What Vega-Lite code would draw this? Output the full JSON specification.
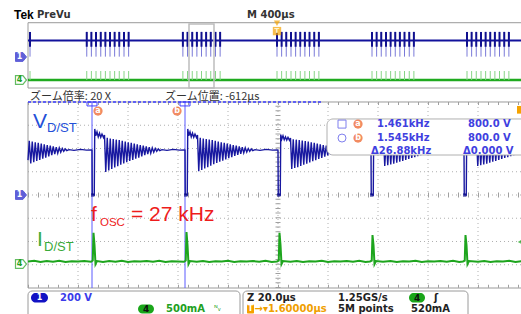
{
"$schema":"https://vega.github.io/schema/vega-lite/v6.json",
"background":"white","padding":0,"spacing":0,"bounds":"flush",
"config":{"view":{"stroke":null},"concat":{"spacing":0}},
"resolve":{"scale":{"x":"independent","y":"independent"}},
"datasets":{
"ospk":[{"t":16,"lo":-0.2,"dk":1.0,"hi":2.8,"glo":-3.03,"ghi":-1.94},
{"t":470,"lo":-0.2,"dk":1.0,"hi":2.8,"glo":-3.03,"ghi":-1.94},{"t":507,"lo":-0.2,"dk":1.0,"hi":2.8,"glo":-3.03,"ghi":-1.94},{"t":544,"lo":-0.2,"dk":1.0,"hi":2.8,"glo":-3.03,"ghi":-1.94},{"t":582,"lo":-0.2,"dk":1.0,"hi":2.8,"glo":-3.03,"ghi":-1.94},{"t":619,"lo":-0.2,"dk":1.0,"hi":2.8,"glo":-3.03,"ghi":-1.94},{"t":656,"lo":-0.2,"dk":1.0,"hi":2.8,"glo":-3.03,"ghi":-1.94},{"t":693,"lo":-0.2,"dk":1.0,"hi":2.8,"glo":-3.03,"ghi":-1.94},{"t":730,"lo":-0.2,"dk":1.0,"hi":2.8,"glo":-3.03,"ghi":-1.94},{"t":768,"lo":-0.2,"dk":1.0,"hi":2.8,"glo":-3.03,"ghi":-1.94},{"t":805,"lo":-0.2,"dk":1.0,"hi":2.8,"glo":-3.03,"ghi":-1.94},
{"t":1239,"lo":-0.2,"dk":1.0,"hi":2.8,"glo":-3.03,"ghi":-1.94},{"t":1276,"lo":-0.2,"dk":1.0,"hi":2.8,"glo":-3.03,"ghi":-1.94},{"t":1314,"lo":-0.2,"dk":1.0,"hi":2.8,"glo":-3.03,"ghi":-1.94},{"t":1351,"lo":-0.2,"dk":1.0,"hi":2.8,"glo":-3.03,"ghi":-1.94},{"t":1388,"lo":-0.2,"dk":1.0,"hi":2.8,"glo":-3.03,"ghi":-1.94},{"t":1425,"lo":-0.2,"dk":1.0,"hi":2.8,"glo":-3.03,"ghi":-1.94},{"t":1462,"lo":-0.2,"dk":1.0,"hi":2.8,"glo":-3.03,"ghi":-1.94},{"t":1500,"lo":-0.2,"dk":1.0,"hi":2.8,"glo":-3.03,"ghi":-1.94},{"t":1537,"lo":-0.2,"dk":1.0,"hi":2.8,"glo":-3.03,"ghi":-1.94},
{"t":1992,"lo":-0.2,"dk":1.0,"hi":2.8,"glo":-3.03,"ghi":-1.94},{"t":2029,"lo":-0.2,"dk":1.0,"hi":2.8,"glo":-3.03,"ghi":-1.94},{"t":2066,"lo":-0.2,"dk":1.0,"hi":2.8,"glo":-3.03,"ghi":-1.94},{"t":2104,"lo":-0.2,"dk":1.0,"hi":2.8,"glo":-3.03,"ghi":-1.94},{"t":2141,"lo":-0.2,"dk":1.0,"hi":2.8,"glo":-3.03,"ghi":-1.94},{"t":2178,"lo":-0.2,"dk":1.0,"hi":2.8,"glo":-3.03,"ghi":-1.94},{"t":2215,"lo":-0.2,"dk":1.0,"hi":2.8,"glo":-3.03,"ghi":-1.94},{"t":2252,"lo":-0.2,"dk":1.0,"hi":2.8,"glo":-3.03,"ghi":-1.94},{"t":2290,"lo":-0.2,"dk":1.0,"hi":2.8,"glo":-3.03,"ghi":-1.94},{"t":2327,"lo":-0.2,"dk":1.0,"hi":2.8,"glo":-3.03,"ghi":-1.94},
{"t":2752,"lo":-0.2,"dk":1.0,"hi":2.8,"glo":-3.03,"ghi":-1.94},{"t":2789,"lo":-0.2,"dk":1.0,"hi":2.8,"glo":-3.03,"ghi":-1.94},{"t":2826,"lo":-0.2,"dk":1.0,"hi":2.8,"glo":-3.03,"ghi":-1.94},{"t":2864,"lo":-0.2,"dk":1.0,"hi":2.8,"glo":-3.03,"ghi":-1.94},{"t":2901,"lo":-0.2,"dk":1.0,"hi":2.8,"glo":-3.03,"ghi":-1.94},{"t":2938,"lo":-0.2,"dk":1.0,"hi":2.8,"glo":-3.03,"ghi":-1.94},{"t":2975,"lo":-0.2,"dk":1.0,"hi":2.8,"glo":-3.03,"ghi":-1.94},{"t":3012,"lo":-0.2,"dk":1.0,"hi":2.8,"glo":-3.03,"ghi":-1.94},{"t":3050,"lo":-0.2,"dk":1.0,"hi":2.8,"glo":-3.03,"ghi":-1.94},{"t":3087,"lo":-0.2,"dk":1.0,"hi":2.8,"glo":-3.03,"ghi":-1.94},
{"t":3512,"lo":-0.2,"dk":1.0,"hi":2.8,"glo":-3.03,"ghi":-1.94},{"t":3549,"lo":-0.2,"dk":1.0,"hi":2.8,"glo":-3.03,"ghi":-1.94},{"t":3586,"lo":-0.2,"dk":1.0,"hi":2.8,"glo":-3.03,"ghi":-1.94},{"t":3624,"lo":-0.2,"dk":1.0,"hi":2.8,"glo":-3.03,"ghi":-1.94},{"t":3661,"lo":-0.2,"dk":1.0,"hi":2.8,"glo":-3.03,"ghi":-1.94},{"t":3698,"lo":-0.2,"dk":1.0,"hi":2.8,"glo":-3.03,"ghi":-1.94},{"t":3735,"lo":-0.2,"dk":1.0,"hi":2.8,"glo":-3.03,"ghi":-1.94},{"t":3772,"lo":-0.2,"dk":1.0,"hi":2.8,"glo":-3.03,"ghi":-1.94},{"t":3810,"lo":-0.2,"dk":1.0,"hi":2.8,"glo":-3.03,"ghi":-1.94},{"t":3847,"lo":-0.2,"dk":1.0,"hi":2.8,"glo":-3.03,"ghi":-1.94}],
"zb":[{"t":0,"v":1.5},{"t":0.5,"v":2.33},{"t":1.1,"v":1.36},{"t":1.7,"v":2.3},{"t":2.3,"v":1.41},{"t":2.9,"v":2.27},{"t":3.5,"v":1.46},{"t":4.1,"v":2.24},{"t":4.7,"v":1.51},{"t":5.3,"v":2.21},{"t":5.9,"v":1.56},{"t":6.5,"v":2.18},{"t":7.1,"v":1.61},{"t":7.7,"v":2.15},{"t":8.3,"v":1.66},{"t":8.9,"v":2.12},{"t":9.5,"v":1.71},{"t":10.1,"v":2.09},{"t":10.7,"v":1.76},{"t":11.3,"v":2.06},{"t":11.9,"v":1.8},{"t":12.5,"v":2.03},{"t":13.1,"v":1.84},{"t":13.7,"v":2.0},{"t":14.3,"v":1.88},{"t":14.9,"v":1.98},{"t":15.5,"v":1.91},{"t":16.4,"v":1.95},{"t":18.4,"v":1.92},{"t":21,"v":1.96},{"t":23.4,"v":1.93},{"t":25.3,"v":1.94},
{"t":25.6,"v":1.93},{"t":25.7,"v":0.02},{"t":26.5,"v":0.0},{"t":26.7,"v":2.84},{"t":27.1,"v":2.55},{"t":27.6,"v":2.72},{"t":28.1,"v":2.5},{"t":28.6,"v":2.66},{"t":29.1,"v":2.48},{"t":29.6,"v":2.62},{"t":30.2,"v":2.47},{"t":30.6,"v":2.58},
{"t":31.1,"v":0.99},{"t":31.7,"v":2.46},{"t":32.3,"v":1.05},{"t":32.9,"v":2.43},{"t":33.5,"v":1.12},{"t":34.1,"v":2.41},{"t":34.7,"v":1.18},{"t":35.3,"v":2.38},{"t":35.9,"v":1.24},{"t":36.5,"v":2.36},{"t":37.1,"v":1.3},{"t":37.7,"v":2.33},{"t":38.3,"v":1.36},{"t":38.9,"v":2.3},{"t":39.5,"v":1.41},{"t":40.1,"v":2.27},{"t":40.7,"v":1.46},{"t":41.3,"v":2.24},{"t":41.9,"v":1.51},{"t":42.5,"v":2.21},{"t":43.1,"v":1.56},{"t":43.7,"v":2.18},{"t":44.3,"v":1.61},{"t":44.9,"v":2.15},{"t":45.5,"v":1.66},{"t":46.1,"v":2.12},{"t":46.7,"v":1.71},{"t":47.3,"v":2.09},{"t":47.9,"v":1.76},{"t":48.5,"v":2.06},{"t":49.1,"v":1.8},{"t":49.7,"v":2.03},{"t":50.3,"v":1.84},{"t":50.9,"v":2.0},{"t":51.5,"v":1.88},{"t":52.1,"v":1.98},{"t":52.7,"v":1.91},{"t":53.6,"v":1.95},{"t":55.6,"v":1.92},{"t":58.1,"v":1.96},{"t":60.6,"v":1.93},{"t":62.5,"v":1.94},
{"t":62.8,"v":1.93},{"t":62.9,"v":0.02},{"t":63.7,"v":0.0},{"t":63.9,"v":2.84},{"t":64.3,"v":2.55},{"t":64.8,"v":2.72},{"t":65.3,"v":2.5},{"t":65.8,"v":2.66},{"t":66.3,"v":2.48},{"t":66.8,"v":2.62},{"t":67.4,"v":2.47},{"t":67.8,"v":2.58},
{"t":68.3,"v":1.02},{"t":68.9,"v":2.46},{"t":69.5,"v":1.08},{"t":70.1,"v":2.43},{"t":70.7,"v":1.14},{"t":71.3,"v":2.41},{"t":71.9,"v":1.2},{"t":72.5,"v":2.38},{"t":73.1,"v":1.26},{"t":73.7,"v":2.36},{"t":74.3,"v":1.32},{"t":74.9,"v":2.33},{"t":75.5,"v":1.38},{"t":76.1,"v":2.3},{"t":76.7,"v":1.43},{"t":77.3,"v":2.27},{"t":77.9,"v":1.48},{"t":78.5,"v":2.24},{"t":79.1,"v":1.53},{"t":79.7,"v":2.21},{"t":80.3,"v":1.58},{"t":80.9,"v":2.18},{"t":81.5,"v":1.63},{"t":82.1,"v":2.15},{"t":82.7,"v":1.68},{"t":83.3,"v":2.12},{"t":83.9,"v":1.73},{"t":84.5,"v":2.09},{"t":85.1,"v":1.77},{"t":85.7,"v":2.06},{"t":86.3,"v":1.81},{"t":86.9,"v":2.03},{"t":87.5,"v":1.85},{"t":88.1,"v":2.0},{"t":88.7,"v":1.88},{"t":89.3,"v":1.98},{"t":89.9,"v":1.91},{"t":90.8,"v":1.95},{"t":92.8,"v":1.92},{"t":95.3,"v":1.96},{"t":97.8,"v":1.93},{"t":99.7,"v":1.94},
{"t":100.0,"v":1.93},{"t":100.1,"v":0.02},{"t":100.9,"v":0.0},{"t":101.1,"v":2.6},{"t":101.5,"v":2.4},{"t":102.0,"v":2.55},{"t":102.5,"v":2.38},{"t":103.0,"v":2.5},{"t":103.5,"v":2.36},{"t":104.0,"v":2.48},{"t":104.6,"v":2.35},{"t":105.0,"v":2.45},
{"t":105.5,"v":1.12},{"t":106.1,"v":2.4},{"t":106.7,"v":1.16},{"t":107.3,"v":2.38},{"t":107.9,"v":1.2},{"t":108.5,"v":2.36},{"t":109.1,"v":1.25},{"t":109.7,"v":2.34},{"t":110.3,"v":1.3},{"t":110.9,"v":2.32},{"t":111.5,"v":1.35},{"t":112.1,"v":2.3},{"t":112.7,"v":1.4},{"t":113.3,"v":2.27},{"t":113.9,"v":1.45},{"t":114.5,"v":2.24},{"t":115.1,"v":1.5},{"t":115.7,"v":2.21},{"t":116.3,"v":1.55},{"t":116.9,"v":2.18},{"t":117.5,"v":1.6},{"t":118.1,"v":2.15},{"t":118.7,"v":1.65},{"t":119.3,"v":2.12},{"t":119.9,"v":1.7},{"t":120.5,"v":2.09},{"t":121.1,"v":1.74},{"t":121.7,"v":2.06},{"t":122.3,"v":1.78},{"t":122.9,"v":2.03},{"t":123.5,"v":1.82},{"t":124.1,"v":2.0},{"t":124.7,"v":1.86},{"t":125.3,"v":1.98},{"t":125.9,"v":1.9},{"t":126.8,"v":1.95},{"t":128.8,"v":1.92},{"t":131.3,"v":1.96},{"t":133.8,"v":1.93},{"t":136.9,"v":1.94},
{"t":137.2,"v":1.93},{"t":137.3,"v":0.02},{"t":138.1,"v":0.0},{"t":138.3,"v":2.7},{"t":138.7,"v":2.45},{"t":139.2,"v":2.6},{"t":139.7,"v":2.42},{"t":140.2,"v":2.55},{"t":140.7,"v":2.4},{"t":141.2,"v":2.52},{"t":141.8,"v":2.4},{"t":142.2,"v":2.48},
{"t":142.7,"v":1.25},{"t":143.3,"v":2.4},{"t":143.9,"v":1.28},{"t":144.5,"v":2.38},{"t":145.1,"v":1.31},{"t":145.7,"v":2.36},{"t":146.3,"v":1.35},{"t":146.9,"v":2.34},{"t":147.5,"v":1.39},{"t":148.1,"v":2.32},{"t":148.7,"v":1.43},{"t":149.3,"v":2.3},{"t":149.9,"v":1.47},{"t":150.5,"v":2.27},{"t":151.1,"v":1.51},{"t":151.7,"v":2.24},{"t":152.3,"v":1.55},{"t":152.9,"v":2.21},{"t":153.5,"v":1.59},{"t":154.1,"v":2.18},{"t":154.7,"v":1.63},{"t":155.3,"v":2.15},{"t":155.9,"v":1.67},{"t":156.5,"v":2.12},{"t":157.1,"v":1.71},{"t":157.7,"v":2.09},{"t":158.3,"v":1.75},{"t":158.9,"v":2.06},{"t":159.5,"v":1.79},{"t":160.1,"v":2.03},{"t":160.7,"v":1.83},{"t":161.3,"v":2.0},{"t":161.9,"v":1.87},{"t":162.5,"v":1.98},{"t":163.1,"v":1.9},{"t":164.0,"v":1.95},{"t":166.0,"v":1.92},{"t":168.5,"v":1.96},{"t":171.0,"v":1.93},{"t":174.1,"v":1.94},
{"t":174.4,"v":1.93},{"t":174.5,"v":0.02},{"t":175.3,"v":0.0},{"t":175.5,"v":2.7},{"t":175.9,"v":2.45},{"t":176.4,"v":2.6},{"t":176.9,"v":2.42},{"t":177.4,"v":2.55},{"t":177.9,"v":2.4},{"t":178.4,"v":2.52},{"t":179.0,"v":2.4},{"t":179.4,"v":2.48},
{"t":179.9,"v":1.25},{"t":180.5,"v":2.4},{"t":181.1,"v":1.28},{"t":181.7,"v":2.38},{"t":182.3,"v":1.31},{"t":182.9,"v":2.36},{"t":183.5,"v":1.35},{"t":184.1,"v":2.34},{"t":184.7,"v":1.39},{"t":185.3,"v":2.32},{"t":185.9,"v":1.43},{"t":186.5,"v":2.3},{"t":187.1,"v":1.47},{"t":187.7,"v":2.27},{"t":188.3,"v":1.51},{"t":188.9,"v":2.24},{"t":189.5,"v":1.55},{"t":190.1,"v":2.21},{"t":190.7,"v":1.59},{"t":191.3,"v":2.18},{"t":191.9,"v":1.63},{"t":192.5,"v":2.15},{"t":193.1,"v":1.67},{"t":193.7,"v":2.12},{"t":194.3,"v":1.71},{"t":194.9,"v":2.09},{"t":195.5,"v":1.75},{"t":196.1,"v":2.06},{"t":196.7,"v":1.79},{"t":197.3,"v":2.03}],
"zg":[{"t":0,"v":-2.86},{"t":2.5,"v":-2.83},{"t":5,"v":-2.88},{"t":7.5,"v":-2.84},{"t":10,"v":-2.87},{"t":12.5,"v":-2.83},{"t":15,"v":-2.88},{"t":17.5,"v":-2.85},{"t":20,"v":-2.86},{"t":22.5,"v":-2.84},{"t":25.2,"v":-2.87},{"t":25.9,"v":-2.82},{"t":26.2,"v":-1.63},{"t":26.6,"v":-2.15},{"t":27.0,"v":-2.97},{"t":27.6,"v":-2.84},{"t":30,"v":-2.88},{"t":32.5,"v":-2.84},{"t":35,"v":-2.87},{"t":37.5,"v":-2.83},{"t":40,"v":-2.88},{"t":42.5,"v":-2.85},{"t":45,"v":-2.86},{"t":47.5,"v":-2.84},{"t":50,"v":-2.87},{"t":52.5,"v":-2.83},{"t":55,"v":-2.88},{"t":57.5,"v":-2.85},{"t":60,"v":-2.86},{"t":62.4,"v":-2.87},{"t":63.1,"v":-2.82},{"t":63.4,"v":-1.59},{"t":63.8,"v":-2.15},{"t":64.2,"v":-2.97},{"t":64.8,"v":-2.84},{"t":67.5,"v":-2.87},{"t":70,"v":-2.84},{"t":72.5,"v":-2.88},{"t":75,"v":-2.85},{"t":77.5,"v":-2.86},{"t":80,"v":-2.83},{"t":82.5,"v":-2.88},{"t":85,"v":-2.85},{"t":87.5,"v":-2.86},{"t":90,"v":-2.84},{"t":92.5,"v":-2.87},{"t":95,"v":-2.83},{"t":97.5,"v":-2.88},{"t":99.6,"v":-2.86},{"t":100.3,"v":-2.82},{"t":100.6,"v":-1.63},{"t":101.0,"v":-2.15},{"t":101.4,"v":-2.97},{"t":102.0,"v":-2.84},{"t":105,"v":-2.87},{"t":107.5,"v":-2.84},{"t":110,"v":-2.88},{"t":112.5,"v":-2.85},{"t":115,"v":-2.86},{"t":117.5,"v":-2.83},{"t":120,"v":-2.88},{"t":122.5,"v":-2.85},{"t":125,"v":-2.86},{"t":127.5,"v":-2.84},{"t":130,"v":-2.87},{"t":132.5,"v":-2.83},{"t":135,"v":-2.88},{"t":136.8,"v":-2.86},{"t":137.5,"v":-2.82},{"t":137.8,"v":-1.72},{"t":138.2,"v":-2.15},{"t":138.6,"v":-2.97},{"t":139.2,"v":-2.84},{"t":142,"v":-2.87},{"t":145,"v":-2.84},{"t":147.5,"v":-2.88},{"t":150,"v":-2.85},{"t":152.5,"v":-2.86},{"t":155,"v":-2.83},{"t":157.5,"v":-2.88},{"t":160,"v":-2.85},{"t":162.5,"v":-2.86},{"t":165,"v":-2.84},{"t":167.5,"v":-2.87},{"t":170,"v":-2.83},{"t":172.5,"v":-2.88},{"t":174.0,"v":-2.86},{"t":174.7,"v":-2.82},{"t":175.0,"v":-1.72},{"t":175.4,"v":-2.15},{"t":175.8,"v":-2.97},{"t":176.4,"v":-2.84},{"t":180,"v":-2.87},{"t":182.5,"v":-2.84},{"t":185,"v":-2.88},{"t":187.5,"v":-2.85},{"t":190,"v":-2.86},{"t":192.5,"v":-2.83},{"t":195,"v":-2.88},{"t":197.3,"v":-2.85}]
},
"vconcat":[
{"width":521,"height":90,
"encoding":{"x":{"field":"t","type":"quantitative","scale":{"domain":[-224,3944],"nice":false,"zero":false},"axis":null},
"y":{"field":"v","type":"quantitative","scale":{"domain":[-4.242,6.667],"nice":false,"zero":false},"axis":null}},
"layer":[
{"data":{"values":[{"t":0,"t2":4400,"v":-4.0,"v2":3.915}]},"mark":{"type":"rect","fillOpacity":0,"stroke":"#9a9a9a","strokeWidth":1,"clip":true},"encoding":{"x2":{"field":"t2"},"y2":{"field":"v2"}}},
{"data":{"values":[{"t":0,"t2":3944,"v":-3.03}]},"mark":{"type":"rule","color":"#1faa1f","strokeWidth":2.5,"clip":true},"encoding":{"x2":{"field":"t2"}}},
{"data":{"name":"ospk"},"mark":{"type":"rule","color":"#86d486","strokeWidth":1},"encoding":{"y":{"field":"glo","type":"quantitative","scale":{"domain":[-4.242,6.667],"nice":false,"zero":false},"axis":null},"y2":{"field":"ghi"}}},
{"data":{"values":[{"t":0,"t2":3944,"v":1.76}]},"mark":{"type":"rule","color":"#12129c","strokeWidth":2,"clip":true},"encoding":{"x2":{"field":"t2"}}},
{"data":{"name":"ospk"},"mark":{"type":"rule","color":"#7a7ad8","strokeWidth":1},"encoding":{"y":{"field":"lo","type":"quantitative","scale":{"domain":[-4.242,6.667],"nice":false,"zero":false},"axis":null},"y2":{"field":"hi"}}},
{"data":{"name":"ospk"},"mark":{"type":"rule","color":"#10108f","strokeWidth":2},"encoding":{"y":{"field":"dk","type":"quantitative","scale":{"domain":[-4.242,6.667],"nice":false,"zero":false},"axis":null},"y2":{"field":"hi"}}},
{"data":{"values":[{"t":1288,"t2":1488,"v":-4.0,"v2":3.76}]},"mark":{"type":"rect","fillOpacity":0,"stroke":"#bdbdbd","strokeWidth":1.5},"encoding":{"x2":{"field":"t2"},"y2":{"field":"v2"}}},
{"data":{"values":[{"t":1992,"v":3.85}]},"mark":{"type":"point","shape":"triangle-down","size":40,"filled":true,"fill":"#f5a300","strokeWidth":0}},
{"data":{"values":[{"t":1992,"v":2.9}]},"mark":{"type":"point","shape":"square","size":70,"filled":true,"fill":"#f5a300","strokeWidth":0}},
{"data":{"values":[{"t":1992,"v":2.9,"label":"T"}]},"mark":{"type":"text","color":"#fff3d0","fontSize":7,"fontWeight":"bold","font":"DejaVu Sans","align":"center","baseline":"middle"},"encoding":{"text":{"field":"label"}}},
{"data":{"values":[{"t":-56,"v":-0.24}]},"mark":{"type":"point","shape":"M-1,-0.8L0.35,-0.8L1,0L0.35,0.8L-1,0.8Z","size":121,"filled":true,"fill":"#1c1cc8","stroke":"#1c1cc8","strokeWidth":1}},
{"data":{"values":[{"t":-56,"v":-3.03}]},"mark":{"type":"point","shape":"M-1,-0.8L0.35,-0.8L1,0L0.35,0.8L-1,0.8Z","size":121,"filled":true,"fill":"#ffffff","stroke":"#22a022","strokeWidth":1.2}},
{"data":{"values":[{"t":-68,"v":-0.24,"label":"1"}]},"mark":{"type":"text","color":"#ffffff","fontSize":8,"fontWeight":"bold","font":"DejaVu Sans","align":"center","baseline":"middle"},"encoding":{"text":{"field":"label"}}},
{"data":{"values":[{"t":-68,"v":-3.03,"label":"4"}]},"mark":{"type":"text","color":"#22a022","fontSize":8,"fontWeight":"bold","font":"DejaVu Sans","align":"center","baseline":"middle"},"encoding":{"text":{"field":"label"}}},
{"data":{"values":[{"t":-112,"v":4.85,"label":"Tek"}]},"mark":{"type":"text","color":"#000000","fontSize":12,"fontWeight":"bold","font":"Liberation Sans","align":"left","baseline":"middle"},"encoding":{"text":{"field":"label"}}},
{"data":{"values":[{"t":72,"v":4.85,"label":"PreVu"},{"t":1752,"v":4.85,"label":"M 400µs"}]},"mark":{"type":"text","color":"#333333","fontSize":10,"fontWeight":"bold","font":"DejaVu Sans","align":"left","baseline":"middle"},"encoding":{"text":{"field":"label"}}}
]},
{"width":521,"height":199,
"encoding":{"x":{"field":"t","type":"quantitative","scale":{"domain":[-11.2,197.2],"nice":false,"zero":false},"axis":null},
"y":{"field":"v","type":"quantitative","scale":{"domain":[-4.043,4.516],"nice":false,"zero":false},"axis":null}},
"layer":[
{"data":{"values":[{"t":20,"v":-4,"v2":4},{"t":40,"v":-4,"v2":4},{"t":60,"v":-4,"v2":4},{"t":80,"v":-4,"v2":4},{"t":100,"v":-4,"v2":4},{"t":120,"v":-4,"v2":4},{"t":140,"v":-4,"v2":4},{"t":160,"v":-4,"v2":4},{"t":180,"v":-4,"v2":4}]},"mark":{"type":"rule","color":"#b0b0b0","strokeWidth":1,"strokeDash":[1,3]},"encoding":{"y2":{"field":"v2"}}},
{"data":{"values":[{"t":0,"t2":197.2,"v":-3},{"t":0,"t2":197.2,"v":-2},{"t":0,"t2":197.2,"v":-1},{"t":0,"t2":197.2,"v":0},{"t":0,"t2":197.2,"v":1},{"t":0,"t2":197.2,"v":2},{"t":0,"t2":197.2,"v":3}]},"mark":{"type":"rule","color":"#b0b0b0","strokeWidth":1,"strokeDash":[1,3]},"encoding":{"x2":{"field":"t2"}}},
{"data":{"values":[{"t":0,"t2":197.2,"v":0}]},"mark":{"type":"rule","color":"#a0a0a0","strokeWidth":5,"strokeDash":[1,9]},"encoding":{"x2":{"field":"t2"}}},
{"data":{"values":[{"t":100,"v":-4,"v2":4}]},"mark":{"type":"rule","color":"#a0a0a0","strokeWidth":5,"strokeDash":[1,3.65]},"encoding":{"y2":{"field":"v2"}}},
{"data":{"values":[{"t":0,"t2":197.2,"v":3.93},{"t":0,"t2":197.2,"v":-3.93}]},"mark":{"type":"rule","color":"#a0a0a0","strokeWidth":3,"strokeDash":[1,9]},"encoding":{"x2":{"field":"t2"}}},
{"data":{"values":[{"t":0,"v":-4,"v2":4}]},"mark":{"type":"rule","color":"#9a9a9a","strokeWidth":1},"encoding":{"y2":{"field":"v2"}}},
{"data":{"values":[{"t":0,"t2":197.2,"v":-4},{"t":0,"t2":197.2,"v":4}]},"mark":{"type":"rule","color":"#9a9a9a","strokeWidth":1},"encoding":{"x2":{"field":"t2"}}},
{"data":{"values":[{"t":0,"t2":118,"v":4}]},"mark":{"type":"rule","color":"#3c3cff","strokeWidth":1.5,"strokeDash":[3,2]},"encoding":{"x2":{"field":"t2"}}},
{"data":{"values":[{"t":25.6,"v":-4,"v2":4},{"t":62.8,"v":-4,"v2":4}]},"mark":{"type":"rule","color":"#5a5aff","strokeWidth":1},"encoding":{"y2":{"field":"v2"}}},
{"data":{"values":[{"t":23.6,"t2":27.6,"v":3.83,"v2":4.0},{"t":60.8,"t2":64.8,"v":3.83,"v2":4.0}]},"mark":{"type":"rect","fillOpacity":0,"stroke":"#4040ff","strokeWidth":1},"encoding":{"x2":{"field":"t2"},"y2":{"field":"v2"}}},
{"data":{"name":"zg"},"mark":{"type":"line","color":"#1ea51e","strokeWidth":2,"clip":true}},
{"data":{"name":"zb"},"mark":{"type":"line","color":"#1818a0","strokeWidth":1.4,"clip":true}},
{"data":{"values":[{"t":25.9,"v":0},{"t":63.1,"v":0},{"t":100.3,"v":0},{"t":137.5,"v":0},{"t":174.7,"v":0}]},"mark":{"type":"point","shape":"square","size":12,"filled":true,"fill":"#10108a","strokeWidth":0}},
{"data":{"values":[{"t":119.6,"t2":212,"v":1.72,"v2":3.27}]},"mark":{"type":"rect","fill":"#ffffff","stroke":"#b0b0b0","strokeWidth":1,"cornerRadius":6,"clip":true},"encoding":{"x2":{"field":"t2"},"y2":{"field":"v2"}}},
{"data":{"values":[{"t":125.6,"v":3.05}]},"mark":{"type":"point","shape":"square","size":64,"filled":false,"stroke":"#4a4ae8","strokeWidth":1}},
{"data":{"values":[{"t":125.6,"v":2.45}]},"mark":{"type":"point","shape":"circle","size":64,"filled":false,"stroke":"#4a4ae8","strokeWidth":1}},
{"data":{"values":[{"t":132,"v":3.05},{"t":132,"v":2.45},{"t":28,"v":3.61},{"t":59.6,"v":3.61}]},"mark":{"type":"point","shape":"circle","size":85,"filled":true,"fill":"#ec5a1e","strokeWidth":0}},
{"data":{"values":[{"t":132,"v":3.05,"label":"a"},{"t":132,"v":2.45,"label":"b"},{"t":28,"v":3.61,"label":"a"},{"t":59.6,"v":3.61,"label":"b"}]},"mark":{"type":"text","color":"#ffffff","fontSize":8,"fontWeight":"bold","font":"DejaVu Sans","align":"center","baseline":"middle"},"encoding":{"text":{"field":"label"}}},
{"data":{"values":[{"t":139.6,"v":3.05,"label":"1.461kHz"},{"t":176,"v":3.05,"label":"800.0 V"},{"t":139.6,"v":2.45,"label":"1.545kHz"},{"t":176,"v":2.45,"label":"800.0 V"},{"t":137.2,"v":1.89,"label":"Δ26.88kHz"},{"t":174,"v":1.89,"label":"Δ0.000 V"}]},"mark":{"type":"text","color":"#4040e0","fontSize":10,"fontWeight":"bold","font":"DejaVu Sans","align":"left","baseline":"middle"},"encoding":{"text":{"field":"label"}}},
{"data":{"values":[{"t":2.0,"v":2.88,"label":"V"}]},"mark":{"type":"text","color":"#2450d8","fontSize":21,"font":"Liberation Sans","align":"left","baseline":"alphabetic"},"encoding":{"text":{"field":"label"}}},
{"data":{"values":[{"t":7.6,"v":2.71,"label":"D/ST"}]},"mark":{"type":"text","color":"#2450d8","fontSize":13,"font":"Liberation Sans","align":"left","baseline":"alphabetic"},"encoding":{"text":{"field":"label"}}},
{"data":{"values":[{"t":25.2,"v":-1.12,"label":"f"},{"t":41.2,"v":-1.12,"label":"= 27 kHz"}]},"mark":{"type":"text","color":"#ee1c1c","fontSize":21,"font":"Liberation Sans","align":"left","baseline":"alphabetic"},"encoding":{"text":{"field":"label"}}},
{"data":{"values":[{"t":28.8,"v":-1.33,"label":"OSC"}]},"mark":{"type":"text","color":"#ee1c1c","fontSize":11.5,"font":"Liberation Sans","align":"left","baseline":"alphabetic"},"encoding":{"text":{"field":"label"}}},
{"data":{"values":[{"t":3.6,"v":-2.19,"label":"I"}]},"mark":{"type":"text","color":"#3aaa3a","fontSize":21,"font":"Liberation Sans","align":"left","baseline":"alphabetic"},"encoding":{"text":{"field":"label"}}},
{"data":{"values":[{"t":6.4,"v":-2.41,"label":"D/ST"}]},"mark":{"type":"text","color":"#3aaa3a","fontSize":13,"font":"Liberation Sans","align":"left","baseline":"alphabetic"},"encoding":{"text":{"field":"label"}}},
{"data":{"values":[{"t":-2.8,"v":0}]},"mark":{"type":"point","shape":"M-1,-0.8L0.35,-0.8L1,0L0.35,0.8L-1,0.8Z","size":121,"filled":true,"fill":"#1c1cc8","stroke":"#1c1cc8","strokeWidth":1}},
{"data":{"values":[{"t":-2.8,"v":-2.97}]},"mark":{"type":"point","shape":"M-1,-0.8L0.35,-0.8L1,0L0.35,0.8L-1,0.8Z","size":121,"filled":true,"fill":"#ffffff","stroke":"#22a022","strokeWidth":1.2}},
{"data":{"values":[{"t":-3.4,"v":0,"label":"1"}]},"mark":{"type":"text","color":"#ffffff","fontSize":8,"fontWeight":"bold","font":"DejaVu Sans","align":"center","baseline":"middle"},"encoding":{"text":{"field":"label"}}},
{"data":{"values":[{"t":-3.4,"v":-2.97,"label":"4"}]},"mark":{"type":"text","color":"#22a022","fontSize":8,"fontWeight":"bold","font":"DejaVu Sans","align":"center","baseline":"middle"},"encoding":{"text":{"field":"label"}}},
{"data":{"values":[{"t":0.8,"v":4.215,"label":"ズーム倍率: 20 X"},{"t":54.8,"v":4.215,"label":"ズーム位置: -612µs"}]},"mark":{"type":"text","color":"#333333","fontSize":11,"font":"Noto Sans CJK JP","align":"left","baseline":"middle"},"encoding":{"text":{"field":"label"}}},
{"data":{"values":[{"t":195.6,"t2":199,"v":3.5,"v2":3.83}]},"mark":{"type":"rect","fill":"#f5a300","clip":true},"encoding":{"x2":{"field":"t2"},"y2":{"field":"v2"}}},
{"data":{"values":[{"t":196.6,"v":-2.02}]},"mark":{"type":"point","shape":"triangle-left","size":16,"filled":true,"fill":"#1ea51e","strokeWidth":0}}
]},
{"width":521,"height":25,
"encoding":{"x":{"field":"t","type":"quantitative","scale":{"domain":[-0.56,9.86],"nice":false,"zero":false},"axis":null},
"y":{"field":"v","type":"quantitative","scale":{"domain":[0,2.5],"nice":false,"zero":false,"reverse":true},"axis":null}},
"layer":[
{"data":{"values":[{"t":0,"t2":4.24,"v":0.2,"v2":2.9},{"t":4.3,"t2":8.8,"v":0.2,"v2":2.9}]},"mark":{"type":"rect","fill":"#ffffff","stroke":"#9a9a9a","strokeWidth":1,"cornerRadius":4,"clip":true},"encoding":{"x2":{"field":"t2"},"y2":{"field":"v2"}}},
{"data":{"values":[{"t":0.06,"t2":0.4,"v":0.4,"v2":1.35}]},"mark":{"type":"rect","fill":"#1212c4","cornerRadius":5},"encoding":{"x2":{"field":"t2"},"y2":{"field":"v2"}}},
{"data":{"values":[{"t":2.2,"t2":2.52,"v":1.55,"v2":2.45},{"t":7.62,"t2":7.94,"v":0.4,"v2":1.35}]},"mark":{"type":"rect","fill":"#1aa61a","cornerRadius":5},"encoding":{"x2":{"field":"t2"},"y2":{"field":"v2"}}},
{"data":{"values":[{"t":4.38,"t2":4.52,"v":1.55,"v2":2.45}]},"mark":{"type":"rect","fill":"#f5a000","cornerRadius":1},"encoding":{"x2":{"field":"t2"},"y2":{"field":"v2"}}},
{"data":{"values":[{"t":0.23,"v":0.88,"label":"1"},{"t":4.45,"v":2.0,"label":"T"}]},"mark":{"type":"text","color":"#ffffff","fontSize":8,"fontWeight":"bold","font":"DejaVu Sans","align":"center","baseline":"middle"},"encoding":{"text":{"field":"label"}}},
{"data":{"values":[{"t":2.36,"v":2.0,"label":"4"},{"t":7.78,"v":0.88,"label":"4"}]},"mark":{"type":"text","color":"#111111","fontSize":9,"fontWeight":"bold","font":"DejaVu Sans","align":"center","baseline":"middle"},"encoding":{"text":{"field":"label"}}},
{"data":{"values":[{"t":0.64,"v":0.85,"label":"200 V"}]},"mark":{"type":"text","color":"#3b3bea","fontSize":10,"fontWeight":"bold","font":"DejaVu Sans","align":"left","baseline":"middle"},"encoding":{"text":{"field":"label"}}},
{"data":{"values":[{"t":2.76,"v":2.0,"label":"500mA"}]},"mark":{"type":"text","color":"#22a022","fontSize":10,"fontWeight":"bold","font":"DejaVu Sans","align":"left","baseline":"middle"},"encoding":{"text":{"field":"label"}}},
{"data":{"values":[{"t":3.72,"v":2.0,"label":"ᴺᵥ"}]},"mark":{"type":"text","color":"#22a022","fontSize":8,"font":"DejaVu Sans","align":"left","baseline":"middle"},"encoding":{"text":{"field":"label"}}},
{"data":{"values":[{"t":4.38,"v":0.85,"label":"Z 20.0µs"},{"t":6.2,"v":0.85,"label":"1.25GS/s"},{"t":6.2,"v":2.0,"label":"5M points"},{"t":8.12,"v":0.85,"label":"ʃ"},{"t":7.66,"v":2.0,"label":"520mA"}]},"mark":{"type":"text","color":"#222222","fontSize":10,"fontWeight":"bold","font":"DejaVu Sans","align":"left","baseline":"middle"},"encoding":{"text":{"field":"label"}}},
{"data":{"values":[{"t":4.53,"v":2.0,"label":"→▾1.60000µs"}]},"mark":{"type":"text","color":"#f0a000","fontSize":10,"fontWeight":"bold","font":"DejaVu Sans","align":"left","baseline":"middle"},"encoding":{"text":{"field":"label"}}}
]}
]}
